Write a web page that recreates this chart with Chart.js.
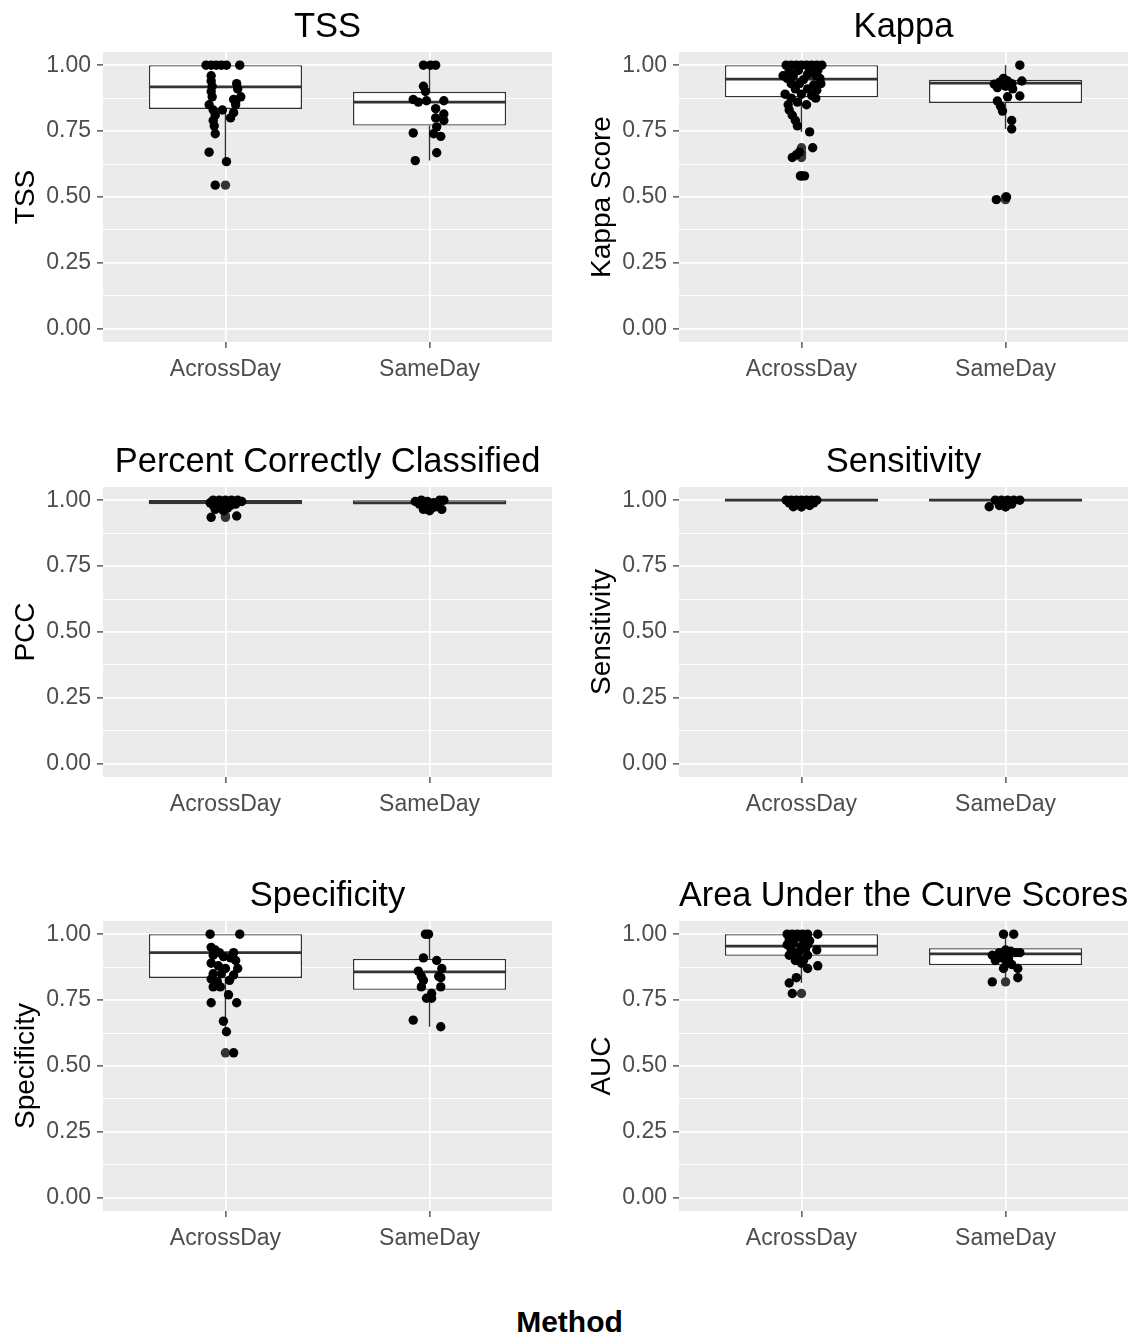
<!DOCTYPE html>
<html>
<head>
<meta charset="utf-8">
<script src="https://cdn.jsdelivr.net/npm/chart.js@4.4.1/dist/chart.umd.min.js"></script>
<style>
  body { margin: 0; background: #fff; }
  #wrap { position: relative; width: 1139px; height: 1339px; }
  #wrap canvas { position: absolute; }
  #xlab {
    position: absolute; left: 0; width: 1139px; top: 1307px;
    text-align: center; font: bold 30px 'Liberation Sans', Arial, sans-serif; line-height: 30px;
    color: #000;
  }
</style>
</head>
<body>
<div id="wrap">
  <canvas id="tss"   width="565" height="400" style="left:0;top:0"></canvas>
  <canvas id="kappa" width="563" height="400" style="left:576px;top:0"></canvas>
  <canvas id="pcc"   width="565" height="400" style="left:0;top:435px"></canvas>
  <canvas id="sens"  width="563" height="400" style="left:576px;top:435px"></canvas>
  <canvas id="spec"  width="565" height="400" style="left:0;top:869px"></canvas>
  <canvas id="auc"   width="563" height="400" style="left:576px;top:869px"></canvas>
  <div id="xlab">Method</div>
</div>
<script>
// categories and axis breaks
const methods = ['AcrossDay', 'SameDay'];
const yTickValues = [0, 0.25, 0.5, 0.75, 1];
const yMinorValues = [0.125, 0.375, 0.625, 0.875];

// boxes are [lower whisker, q1, median, q3, upper whisker]
// jitter is the horizontal offset, in category units

// TSS
const tssAcross = [1.00, 1.00, 1.00, 1.00, 1.00, 1.00, 0.96, 0.94, 0.92, 0.90, 0.88, 0.93, 0.91, 0.88, 0.87, 0.86,
  0.85, 0.83, 0.81, 0.79, 0.85, 0.82, 0.80, 0.83, 0.77, 0.74, 0.67, 0.634, 0.545];
const tssAcrossJitter = [-0.095, -0.07, -0.045, -0.02, 0.005, 0.07, -0.07, -0.07, -0.065, -0.07, -0.065, 0.055, 0.06, 0.075, 0.04, 0.05,
  -0.08, -0.06, -0.05, -0.06, 0.05, 0.04, 0.025, -0.015, -0.055, -0.05, -0.08, 0.005, -0.05];
const tssAcrossBox = [0.634, 0.834, 0.918, 1.00, 1.00];
const tssSame = [1.00, 1.00, 1.00, 0.92, 0.90, 0.87, 0.86, 0.865, 0.865, 0.835, 0.80, 0.815, 0.79,
  0.766, 0.73, 0.74, 0.743, 0.668, 0.638];
const tssSameJitter = [-0.03, 0.005, 0.03, -0.03, -0.02, -0.08, -0.055, -0.015, 0.07, 0.03, 0.03, 0.07, 0.07,
  0.035, 0.055, 0.02, -0.08, 0.035, -0.07];
const tssSameBox = [0.638, 0.771, 0.86, 0.899, 1.00];

// Kappa
const kappaAcross = [1, 1, 1, 1, 1, 1, 1, 1, 0.98, 0.98, 0.98, 0.98, 0.96, 0.96, 0.965, 0.96, 0.95, 0.945, 0.95,
  0.93, 0.93, 0.925, 0.93, 0.91, 0.91, 0.905, 0.89, 0.89, 0.885, 0.875, 0.875, 0.86, 0.85, 0.85,
  0.83, 0.81, 0.79, 0.77, 0.747, 0.66, 0.67, 0.65, 0.687, 0.58, 0.58];
const kappaAcrossJitter = [-0.075, -0.05, -0.025, 0, 0.025, 0.05, 0.075, 0.1, -0.06, -0.015, 0.04, 0.08, -0.09, -0.04, 0.03, 0.07,
  -0.07, 0.01, 0.09, -0.05, -0.01, 0.06, 0.095, -0.03, 0.03, 0.075, -0.08, 0, 0.05, -0.05, 0.07, -0.02, -0.065, 0.025,
  -0.06, -0.045, -0.03, -0.02, 0.04, -0.025, -0.01, -0.045, 0.055, 0.015, -0.005];
const kappaAcrossBox = [0.747, 0.878, 0.947, 1.00, 1.00];
const kappaSame = [1.00, 0.95, 0.94, 0.928, 0.935, 0.94, 0.93, 0.92, 0.915, 0.91, 0.883, 0.88, 0.864, 0.826, 0.845,
  0.79, 0.758, 0.49, 0.50];
const kappaSameJitter = [0.07, -0.01, 0.01, -0.055, -0.03, 0.08, 0.03, 0, -0.04, 0.035, 0.07, 0.01, -0.04, -0.015, -0.025,
  0.03, 0.03, -0.045, 0.005];
const kappaSameBox = [0.758, 0.857, 0.932, 0.945, 1.00];

// Percent correctly classified
const pccAcross = [1, 1, 1, 1, 1, 0.995, 0.99, 0.99, 0.99, 0.985, 0.98, 0.975, 0.98, 0.965, 0.96, 0.97, 0.935, 0.94];
const pccAcrossJitter = [-0.06, -0.03, 0, 0.03, 0.06, 0.08, -0.075, -0.04, 0.015, 0.05, -0.06, -0.02, 0.025, -0.05, -0.01, 0.01, -0.07, 0.055];
const pccAcrossBox = [0.96, 0.985, 0.995, 1.00, 1.00];
const pccSame = [0.995, 1.00, 0.995, 0.99, 1.00, 1.00, 0.985, 0.975, 0.97, 0.985, 0.965, 0.96, 0.965, 0.975];
const pccSameJitter = [-0.07, -0.04, -0.01, 0.02, 0.05, 0.07, -0.05, -0.02, 0.01, 0.04, -0.03, 0, 0.06, 0.03];
const pccSameBox = [0.96, 0.986, 0.99, 1.00, 1.00];

// Sensitivity
const sensAcross = [1, 1, 1, 1, 1, 1, 1, 0.99, 0.985, 0.99, 0.99, 0.975, 0.975, 0.98];
const sensAcrossJitter = [-0.075, -0.05, -0.025, 0, 0.025, 0.05, 0.075, -0.06, -0.02, 0.02, 0.06, -0.04, 0, 0.04];
const sensAcrossBox = [1, 1, 1, 1, 1];
const sensSame = [1, 1, 1, 1, 1, 0.975, 0.98, 0.975, 0.985];
const sensSameJitter = [-0.05, -0.02, 0.01, 0.04, 0.07, -0.08, -0.03, 0, 0.03];
const sensSameBox = [1, 1, 1, 1, 1];

// Specificity
const specAcross = [1.00, 1.00, 0.95, 0.94, 0.93, 0.92, 0.915, 0.93, 0.91, 0.90, 0.89, 0.88, 0.87, 0.87, 0.85, 0.85,
  0.845, 0.83, 0.82, 0.825, 0.80, 0.80, 0.77, 0.74, 0.74, 0.67, 0.63, 0.55];
const specAcrossJitter = [-0.075, 0.07, -0.07, -0.05, -0.03, -0.06, -0.01, 0.04, 0.025, 0.05, -0.07, -0.035, 0, 0.06, -0.06, -0.02,
  0.04, -0.07, -0.04, 0.02, -0.06, -0.025, 0.015, -0.07, 0.055, -0.01, 0.005, 0.04];
const specAcrossBox = [0.63, 0.834, 0.93, 1.00, 1.00];
const specSame = [1.00, 1.00, 0.91, 0.90, 0.86, 0.835, 0.825, 0.80, 0.80, 0.775, 0.757, 0.757, 0.674, 0.649, 0.84, 0.87, 0.84];
const specSameJitter = [-0.02, -0.005, -0.03, 0.035, -0.055, 0.055, -0.03, 0.055, -0.04, 0.01, -0.015, 0.01, -0.08, 0.055, 0.045, 0.06, -0.04];
const specSameBox = [0.649, 0.789, 0.857, 0.906, 1.00];

// Area under the curve
const aucAcross = [1, 1, 1, 1, 1, 1, 0.98, 0.985, 0.98, 0.975, 0.96, 0.965, 0.955, 0.96, 0.94, 0.935, 0.945, 0.94,
  0.92, 0.915, 0.92, 0.90, 0.90, 0.89, 0.88, 0.87, 0.835, 0.815, 0.775];
const aucAcrossJitter = [-0.07, -0.045, -0.02, 0.005, 0.03, 0.08, -0.06, -0.03, 0.01, 0.04, -0.07, -0.04, 0, 0.03, -0.05, -0.01, 0.02, 0.075,
  -0.06, -0.02, 0.03, -0.03, 0.01, 0, 0.08, 0.03, -0.025, -0.06, -0.045];
const aucAcrossBox = [0.815, 0.918, 0.955, 1.00, 1.00];
const aucSame = [1.00, 1.00, 0.92, 0.93, 0.94, 0.935, 0.93, 0.91, 0.91, 0.93, 0.90, 0.89, 0.885, 0.87, 0.835, 0.819, 0.87];
const aucSameJitter = [-0.01, 0.04, -0.065, -0.03, 0, 0.025, 0.05, -0.02, 0.015, 0.07, -0.05, 0.005, 0.03, 0.06, 0.06, -0.065, -0.01];
const aucSameBox = [0.83, 0.883, 0.925, 0.947, 1.00];

const BOX_HALF = 0.375;
const FONT = "'Liberation Sans', Arial, sans-serif";
Chart.defaults.font.family = FONT;

const isMajor = v => yTickValues.some(t => Math.abs(t - v) < 1e-9);

// grey panel like ggplot
const panelBg = {
  id: 'panelBg',
  beforeDraw(chart) {
    const a = chart.chartArea;
    chart.ctx.save();
    chart.ctx.fillStyle = '#EBEBEB';
    chart.ctx.fillRect(a.left, a.top, a.right - a.left, a.bottom - a.top);
    chart.ctx.restore();
  }
};

function makePanel(id, title, yTitle, series, rightPad) {
  const points = series.flatMap((s, k) => s.values.map((v, i) => ({x: k + 1 + s.jitter[i], y: v})));
  const outliers = series.flatMap((s, k) => s.values
    .filter(v => v < s.box[0] - 1e-9 || v > s.box[4] + 1e-9)
    .map(v => ({x: k + 1, y: v})));
  const medians = series.flatMap((s, k) => [
    {x: k + 1 - BOX_HALF, y: s.box[2]}, {x: k + 1 + BOX_HALF, y: s.box[2]}, {x: k + 1.5, y: null}]);
  const whiskers = series.flatMap((s, k) => [
    {x: k + 1, y: s.box[3]}, {x: k + 1, y: s.box[4]}, {x: k + 1, y: null},
    {x: k + 1, y: s.box[1]}, {x: k + 1, y: s.box[0]}, {x: k + 1.5, y: null}]);
  const boxes = series.map((s, k) => ({x: k + 1, y: [s.box[1], s.box[3]]}));

  return new Chart(document.getElementById(id), {
    type: 'scatter',
    data: {
      datasets: [{
        type: 'scatter',
        data: points,
        backgroundColor: '#000',
        borderWidth: 0,
        pointRadius: 4.7,
        order: 0
      }, {
        type: 'line',
        data: medians,
        borderColor: '#333',
        borderWidth: 2.8,
        pointRadius: 0,
        spanGaps: false,
        order: 1
      }, {
        type: 'bar',
        data: boxes,
        backgroundColor: '#fff',
        borderColor: '#333',
        borderWidth: 1.4,
        borderSkipped: false,
        barPercentage: 2 * BOX_HALF,
        categoryPercentage: 1,
        order: 2
      }, {
        type: 'line',
        data: whiskers,
        borderColor: '#333',
        borderWidth: 1.4,
        pointRadius: 0,
        spanGaps: false,
        order: 3
      }, {
        type: 'scatter',
        data: outliers,
        backgroundColor: '#333',
        borderWidth: 0,
        pointRadius: 4.7,
        order: 4
      }]
    },
    options: {
      responsive: false,
      animation: false,
      events: [],
      layout: { padding: { left: 0, right: rightPad, top: 0, bottom: 0 } },
      plugins: {
        legend: { display: false },
        tooltip: { enabled: false },
        title: {
          display: true,
          text: title,
          fullSize: false,
          color: '#000',
          font: { size: 34.5, weight: 'normal' },
          padding: { top: 7, bottom: 3.6 }
        }
      },
      scales: {
        x: {
          type: 'linear',
          min: 0.4,
          max: 2.6,
          offset: false,
          afterBuildTicks: s => { s.ticks = methods.map((m, i) => ({value: i + 1})); },
          afterFit: s => { s.height = 58; },
          ticks: {
            autoSkip: false,
            maxRotation: 0,
            padding: 8,
            color: '#4D4D4D',
            font: { size: 23 },
            callback: v => methods[Math.round(v) - 1]
          },
          grid: { offset: false, color: '#fff', lineWidth: 1.8, tickColor: '#333', tickWidth: 1.2, tickLength: 6 },
          border: { display: false }
        },
        y: {
          type: 'linear',
          min: -0.05,
          max: 1.05,
          afterBuildTicks: s => {
            s.ticks = yTickValues.concat(yMinorValues).sort((a, b) => a - b).map(v => ({value: v}));
          },
          afterFit: s => { s.width = 103; },
          ticks: {
            autoSkip: false,
            padding: 6,
            color: '#4D4D4D',
            font: { size: 23 },
            callback: v => isMajor(v) ? v.toFixed(2) : ''
          },
          grid: {
            color: '#fff',
            lineWidth: c => (c.tick && !isMajor(c.tick.value)) ? 0.9 : 1.8,
            tickColor: c => (c.tick && !isMajor(c.tick.value)) ? 'rgba(0,0,0,0)' : '#333',
            tickWidth: 1.2,
            tickLength: 6
          },
          border: { display: false },
          title: {
            display: true,
            text: yTitle,
            color: '#000',
            font: { size: 28 },
            padding: { top: 9, bottom: 0 }
          }
        }
      }
    },
    plugins: [panelBg]
  });
}

makePanel('tss', 'TSS', 'TSS', [
  {values: tssAcross, jitter: tssAcrossJitter, box: tssAcrossBox},
  {values: tssSame, jitter: tssSameJitter, box: tssSameBox}], 13);
makePanel('kappa', 'Kappa', 'Kappa Score', [
  {values: kappaAcross, jitter: kappaAcrossJitter, box: kappaAcrossBox},
  {values: kappaSame, jitter: kappaSameJitter, box: kappaSameBox}], 11);
makePanel('pcc', 'Percent Correctly Classified', 'PCC', [
  {values: pccAcross, jitter: pccAcrossJitter, box: pccAcrossBox},
  {values: pccSame, jitter: pccSameJitter, box: pccSameBox}], 13);
makePanel('sens', 'Sensitivity', 'Sensitivity', [
  {values: sensAcross, jitter: sensAcrossJitter, box: sensAcrossBox},
  {values: sensSame, jitter: sensSameJitter, box: sensSameBox}], 11);
makePanel('spec', 'Specificity', 'Specificity', [
  {values: specAcross, jitter: specAcrossJitter, box: specAcrossBox},
  {values: specSame, jitter: specSameJitter, box: specSameBox}], 13);
makePanel('auc', 'Area Under the Curve Scores', 'AUC', [
  {values: aucAcross, jitter: aucAcrossJitter, box: aucAcrossBox},
  {values: aucSame, jitter: aucSameJitter, box: aucSameBox}], 11);
</script>
</body>
</html>
